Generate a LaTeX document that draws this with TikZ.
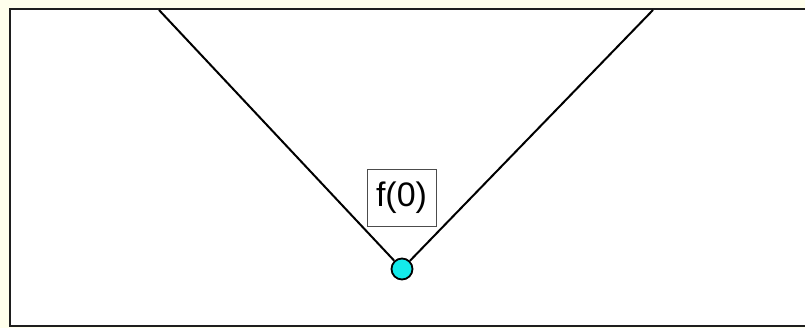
\documentclass[tikz,border=0pt]{standalone}
\usepackage{fontspec}
\setmainfont{Liberation Sans}
\definecolor{bgyellow}{RGB}{255,255,236}
\definecolor{dotcyan}{RGB}{20,235,235}
\definecolor{framegray}{RGB}{30,30,30}
\begin{document}
\begin{tikzpicture}[x=1pt,y=-1pt,
  edge/.style={line width=2pt,black},
  labelbox/.style={draw=black!70,line width=0.9pt,fill=white,minimum width=69pt,minimum height=57pt,inner sep=0pt,font=\fontsize{34}{40}\selectfont},
  dotnode/.style={circle,draw=black,line width=1.8pt,fill=dotcyan,minimum size=21pt,inner sep=0pt}]
\useasboundingbox (0,0) rectangle (805,328);
\fill[bgyellow] (0,0) rectangle (805,328);
\fill[white] (10,9) rectangle (810,326);
\draw[framegray,line width=2.5pt] (810,9) -- (10,9) -- (10,326) -- (810,326);
\coordinate (tl) at (159,10);
\coordinate (tr) at (653,10);
\node[dotnode] (dot) at (402,269) {};
\draw[edge] (tl) -- (dot);
\draw[edge] (tr) -- (dot);
\node[labelbox] (lab) at (401.5,197.5) {f(0)};
\end{tikzpicture}
\end{document}
